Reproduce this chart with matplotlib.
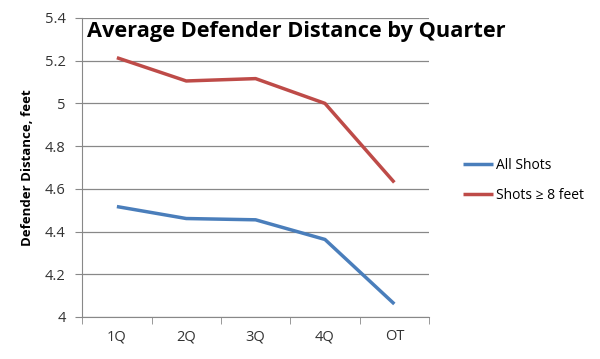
import matplotlib.pyplot as plt
import numpy as np

# values
quarters = ['1Q', '2Q', '3Q', '4Q', 'OT']
all_shots = [4.517, 4.461, 4.455, 4.363, 4.061]
shots_8ft = [5.214, 5.105, 5.116, 5.000, 4.630]

plt.rcParams['font.family'] = ['Open Sans', 'DejaVu Sans']

fig = plt.figure(figsize=(6, 3.59), dpi=100)
ax = fig.add_axes([0.137, 0.117, 0.578, 0.833])

x = np.arange(len(quarters))
ax.plot(x, all_shots, color='#4a7ebb', lw=2.5, label='All Shots', solid_capstyle='butt')
ax.plot(x, shots_8ft, color='#be4b48', lw=2.5, label='Shots \u2265 8 feet', solid_capstyle='butt')

ax.set_xlim(-0.5, len(quarters) - 0.5)
ax.set_ylim(4, 5.4)
ax.set_yticks(np.arange(4, 5.41, 0.2))
ax.set_yticklabels(['4', '4.2', '4.4', '4.6', '4.8', '5', '5.2', '5.4'])
ax.set_xticks(x)
ax.set_xticklabels(quarters)
ax.set_xticks(np.arange(-0.5, len(quarters), 1), minor=True)
ax.tick_params(axis='x', which='major', length=0, pad=9, labelsize=10.5, colors='#333333')
ax.tick_params(axis='x', which='minor', length=5, color='#888888')
ax.tick_params(axis='y', length=5, color='#888888', labelsize=10.5, colors='#333333', pad=7)

ax.grid(axis='y', color='#888888', lw=0.9)
ax.set_axisbelow(True)
for s in ['top', 'right']:
    ax.spines[s].set_visible(False)
for s in ['left', 'bottom']:
    ax.spines[s].set_color('#888888')

ax.set_ylabel('Defender Distance, feet', fontweight='bold', fontsize=9.5, labelpad=8)
ax.text(0.015, 0.955, 'Average Defender Distance by Quarter', transform=ax.transAxes,
        fontsize=15.7, fontweight='bold', va='center', ha='left')

fig.legend(loc='upper left', bbox_to_anchor=(0.75, 0.595), frameon=False,
           fontsize=10, handlelength=2.2, handletextpad=0.2, labelspacing=1.1)

fig.savefig('out.png', dpi=100)
